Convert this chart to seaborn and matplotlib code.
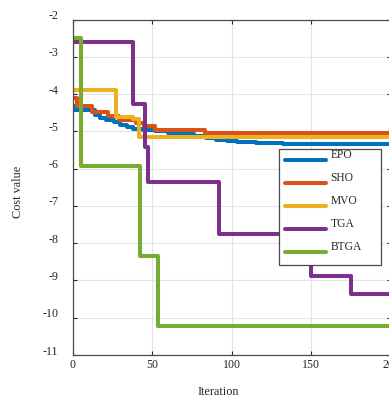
import numpy as np
import pandas as pd
import matplotlib
matplotlib.use("Agg")
import matplotlib.pyplot as plt
import matplotlib.transforms as mtransforms
import seaborn as sns

# Convergence curves: iteration where the best cost changes, and the new cost
epo_iter = [0, 1, 14, 17, 21, 26, 30, 34, 38, 44, 52, 60, 68, 76, 84, 90, 97, 103, 115, 132, 200]
epo_cost = [-4.33, -4.44, -4.56, -4.64, -4.70, -4.76, -4.82, -4.88, -4.93, -4.97, -5.00,
            -5.04, -5.08, -5.13, -5.18, -5.22, -5.26, -5.29, -5.31, -5.33, -5.33]

sho_iter = [0, 3, 12, 22, 29, 40, 45, 52, 83, 200]
sho_cost = [-4.10, -4.33, -4.49, -4.58, -4.70, -4.78, -4.86, -4.96, -5.04, -5.04]

mvo_iter = [0, 27.5, 38, 41.5, 200]
mvo_cost = [-3.89, -4.62, -4.66, -5.15, -5.15]

tga_iter = [0, 38, 45.5, 47.5, 92, 150, 175, 200]
tga_cost = [-2.60, -4.27, -5.42, -6.35, -7.76, -8.88, -9.37, -9.37]

btga_iter = [0, 5, 42.5, 53.5, 200]
btga_cost = [-2.50, -5.93, -8.34, -10.21, -10.21]

algorithms = ["EPO", "SHO", "MVO", "TGA", "BTGA"]
colors = ["#0072BD", "#D95319", "#EDB120", "#7E2F8E", "#77AC30"]

x_ticks = [0, 50, 100, 150, 200]
y_ticks = [-11, -10, -9, -8, -7, -6, -5, -4, -3, -2]

frames = []
for name, it, cost in zip(algorithms,
                          [epo_iter, sho_iter, mvo_iter, tga_iter, btga_iter],
                          [epo_cost, sho_cost, mvo_cost, tga_cost, btga_cost]):
    frames.append(pd.DataFrame({"Iteration": it, "Cost": cost, "Algorithm": name}))
df = pd.concat(frames, ignore_index=True)

sns.set_style("ticks")
plt.rcParams["font.family"] = ["Liberation Serif", "DejaVu Serif"]
plt.rcParams["axes.edgecolor"] = "#262626"
plt.rcParams["xtick.color"] = "#262626"
plt.rcParams["ytick.color"] = "#262626"

fig = plt.figure(figsize=(3.89, 3.97), dpi=100)
ax = fig.add_axes([72.7 / 389, 1 - 355 / 397, 318.3 / 389, 335.5 / 397])

sns.lineplot(data=df, x="Iteration", y="Cost", hue="Algorithm",
             hue_order=algorithms, palette=dict(zip(algorithms, colors)),
             drawstyle="steps-post", linewidth=2.9, legend=False, ax=ax,
             estimator=None, sort=True)

ax.set_xlim(0, 200)
ax.set_ylim(-11, -2)
ax.set_xticks(x_ticks)
ax.set_yticks(y_ticks)
ax.set_xticklabels([str(v) for v in x_ticks])
ax.set_yticklabels([str(v) for v in y_ticks])

ax.grid(True, color="#e3e3e3", linewidth=0.8)
ax.set_axisbelow(True)
for side in ["left", "right", "top", "bottom"]:
    ax.spines[side].set_visible(True)
    ax.spines[side].set_linewidth(0.9)
    ax.spines[side].set_color("#4a4a4a")

ax.tick_params(axis="both", which="major", direction="in", length=3,
               width=0.8, labelsize=8.6, top=True, right=True,
               labelcolor="#262626")
ax.tick_params(axis="y", pad=10.5)
ax.tick_params(axis="x", pad=3.0)

# raise the y tick labels slightly above their ticks
shift_up = mtransforms.ScaledTranslation(0, 5 / 100, fig.dpi_scale_trans)
for lab in ax.get_yticklabels():
    lab.set_transform(lab.get_transform() + shift_up)

ax.set_xlabel("Iteration", fontsize=8.8, color="#262626")
ax.set_ylabel("Cost value", fontsize=8.8, color="#262626")
ax.xaxis.set_label_coords((218 - 72.7) / 318.3, -(392 - 355) / 335.5)
ax.yaxis.set_label_coords(-(72.7 - 18) / 318.3, (355 - 192) / 335.5)
ax.xaxis.label.set_va("center")
ax.yaxis.label.set_va("center")

handles = ax.get_lines()[:len(algorithms)]
x0 = (279 - 72.7) / 318.3
x1 = (381 - 72.7) / 318.3
y1 = (355 - 149) / 335.5
y0 = (355 - 263) / 335.5
leg = ax.legend(handles, algorithms, loc="upper left",
                bbox_to_anchor=(x0, y0, x1 - x0, y1 - y0), mode="expand",
                fontsize=8.3, handlelength=3.5, handletextpad=0.4,
                labelspacing=0.95, borderpad=0.55, borderaxespad=0,
                fancybox=False, framealpha=1, edgecolor="#4a4a4a")
leg.get_frame().set_linewidth(0.9)
for t in leg.get_texts():
    t.set_color("#262626")
    t.set_position((0, 6))

fig.savefig("out.png", dpi=100)
